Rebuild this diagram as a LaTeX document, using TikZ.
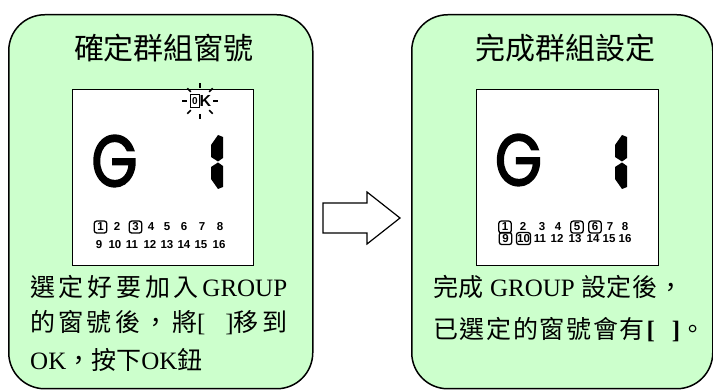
\documentclass[tikz,border=0pt]{standalone}
\usepackage{fontspec}
\setmainfont{Liberation Serif}
\newfontfamily\cjk{Noto Sans CJK TC}
\newfontfamily\digfont{Liberation Sans}
\newfontfamily\geofont[FakeBold=2.5]{Poppins}
\usetikzlibrary{calc}
\definecolor{boxgreen}{RGB}{204,255,204}
\begin{document}
\begin{tikzpicture}[x=1pt,y=-1pt,
  panel/.style={draw=black, line width=1.5pt, fill=boxgreen, rounded corners=36pt, anchor=north west, inner sep=0pt},
  lcd/.style={draw=black, line width=1.3pt, fill=white, anchor=north west, inner sep=0pt},
  titletext/.style={font=\cjk\fontsize{30}{32}\selectfont, inner sep=0pt},
  bodytext/.style={font=\fontsize{25}{30}\selectfont, inner sep=0pt, anchor=west},
  bigG/.style={inner sep=0pt},
  num/.style={font=\digfont\bfseries\fontsize{11.5}{12}\selectfont, inner sep=0.6pt, anchor=base},
  sel/.style={draw=black, line width=1.3pt, rounded corners=2.5pt, minimum width=12.5pt, minimum height=12pt},
  seg/.style={fill=black, draw=none},
  ray/.style={line width=1.5pt},
  blockarrow/.style={draw=black, line width=1.2pt, fill=white, line join=miter}
]
\useasboundingbox (0,0) rectangle (713,390);

% panels
\node[panel, minimum width=304pt, minimum height=374pt] (lp) at (8,14) {};
\node[panel, minimum width=301pt, minimum height=374pt] (rp) at (411,14) {};

% titles
\node[titletext] (ltitle) at (164,48) {確定群組窗號};
\node[titletext] (rtitle) at (565,48) {完成群組設定};

% lcd squares
\node[lcd, minimum width=181pt, minimum height=176pt] (ls) at (72,89) {};
\node[lcd, minimum width=182pt, minimum height=176pt] (rs) at (476,89) {};

% big G
\node[bigG] (lG) at (114.5,161) {\resizebox{46pt}{51pt}{\geofont G}};
\node[bigG] (rG) at (518.5,160) {\resizebox{47pt}{51pt}{\geofont G}};

% segment "1"
\foreach \dx in {0,404}{
  \begin{scope}[xshift=\dx]
    \fill[seg] (218,135) -- (223,137) -- (223,158) -- (218,161.5) -- (211,157) -- (211,145) -- cycle;
    \fill[seg] (218,162.5) -- (223,166) -- (223,187) -- (218,189) -- (211,179) -- (211,167) -- cycle;
  \end{scope}
}

% OK icon
\coordinate (okc) at (200,101);
\node[draw=black, line width=1.6pt, inner sep=0.5pt, minimum width=9pt, minimum height=13pt,
      font=\digfont\bfseries\fontsize{10}{10}\selectfont] (okO) at (195,101) {0};
\node[inner sep=0pt, font=\digfont\bfseries\fontsize{16}{16}\selectfont] (okK) at (205.5,101) {K};
\foreach \a in {0,45,...,315}{
  \draw[ray] (okc) ++(\a:13) -- ++(\a:5);
}

% left numbers (baselines)
\foreach \n/\x in {2/117,4/151,5/167,6/184,7/202,8/220}
  \node[num] (l\n) at (\x,231) {\n};
\foreach \n/\x in {1/100.5,3/135.5}
  \node[num,sel] (l\n) at (\x,231) {\n};
\foreach \n/\x in {9/99,10/115,11/132,12/150,13/167,14/184,15/201,16/219}
  \node[num] (l\n) at (\x,249) {\n};

% right numbers
\foreach \n/\x in {2/523,3/542,4/558,7/610,8/625}
  \node[num] (r\n) at (\x,231) {\n};
\foreach \n/\x in {1/505,5/577,6/595}
  \node[num,sel] (r\n) at (\x,231) {\n};
\foreach \n/\x in {11/540,12/557,13/575,14/593,15/609,16/625}
  \node[num] (r\n) at (\x,242.5) {\n};
\foreach \n/\x in {9/505.5,10/523.5}
  \node[num,sel] (r\n) at (\x,242.5) {\n};

% body texts left
\node[bodytext] (lt1) at (30,287) {\makebox[257pt][s]{\cjk 選\hfill 定\hfill 好\hfill 要\hfill 加\hfill 入\hfill\rmfamily GROUP}};
\node[bodytext] (lt2) at (30,323) {\makebox[257pt][s]{\cjk 的\hfill 窗\hfill 號\hfill 後\hfill ，\hfill 將\rmfamily[\hspace{20pt}]\cjk 移\hfill 到}};
\node[bodytext] (lt3) at (30,360) {OK{\cjk ，按下}OK{\cjk 鈕}};

% body texts right
\node[bodytext] (rt1) at (433,287) {\makebox[250pt][s]{\cjk 完\hfill 成\rmfamily\ GROUP\ \cjk 設\hfill 定\hfill 後\hfill ，}};
\node[bodytext] (rt2) at (433,330) {\makebox[272pt][s]{\cjk 已\hfill 選\hfill 定\hfill 的\hfill 窗\hfill 號\hfill 會\hfill 有\hfill\rmfamily\bfseries[\hspace{17pt}]\cjk\mdseries 。}};

% block arrow
\draw[blockarrow] (323,203) -- (367,203) -- (367,192) -- (400,218) -- (367,244) -- (367,233) -- (323,233) -- cycle;
\end{tikzpicture}
\end{document}
